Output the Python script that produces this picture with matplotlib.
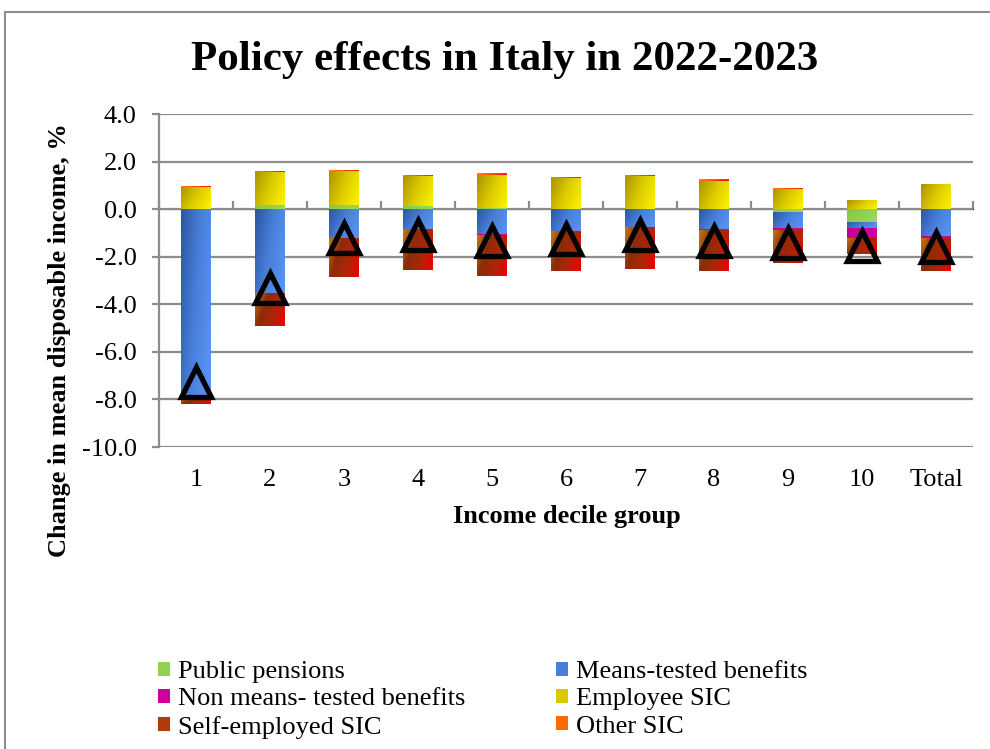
import numpy as np
import matplotlib
matplotlib.use('Agg')
import matplotlib.pyplot as plt
from matplotlib.colors import LinearSegmentedColormap
from matplotlib.patches import Patch, Rectangle

plt.rcParams['font.family'] = ['Liberation Serif', 'DejaVu Serif']

categories = ['1', '2', '3', '4', '5', '6', '7', '8', '9', '10', 'Total']
public_pensions = [0.0, 0.18, 0.18, 0.14, 0.05, 0.0, 0.0, 0.0, -0.14, -0.56, -0.05]
means_tested = [-7.94, -3.56, -1.25, -0.84, -1.08, -0.94, -0.76, -0.84, -0.66, -0.28, -1.10]
non_means_tested = [0.0, 0.0, 0.0, 0.0, -0.02, -0.03, -0.03, -0.03, -0.11, -0.38, -0.10]
employee_sic = [0.93, 1.39, 1.44, 1.27, 1.38, 1.33, 1.41, 1.18, 0.85, 0.35, 1.02]
self_employed_sic = [-0.25, -1.37, -1.62, -1.71, -1.70, -1.65, -1.73, -1.71, -1.36, -0.66, -1.37]
other_sic = [0.04, 0.04, 0.03, 0.03, 0.05, 0.03, 0.03, 0.05, 0.04, 0.0, 0.0]
net_effect = [-7.25, -3.3, -1.2, -1.1, -1.35, -1.27, -1.1, -1.35, -1.42, -1.55, -1.6]

series = [
    ('Public pensions', public_pensions, ['#86c44a', '#92d050', '#9cd95a'], '#92d050'),
    ('Means-tested benefits', means_tested, ['#2c56a2', '#4a80dc', '#5c95f5'], '#4a7fd8'),
    ('Non means- tested benefits', non_means_tested, ['#c0008e', '#cc0099', '#d400a0'], '#cc0099'),
    ('Employee SIC', employee_sic, ['#a89400', '#dccc00', '#fff200'], '#d8c800'),
    ('Self-employed SIC', self_employed_sic, ['#c87a10', '#8a2c0a', '#b02408', '#f00000'], '#b33a08'),
    ('Other SIC', other_sic, ['#ff9a00', '#ff5000', '#ff0000'], '#ff6a00'),
]

grey = '#8c8c8c'
width = 0.405
x = np.arange(len(categories))

fig = plt.figure(figsize=(9.9, 7.49), dpi=100)
ax = fig.add_axes([159 / 990, 1 - 447 / 749, 814 / 990, 333 / 749])

# stacked bars, positives up from zero and negatives down, each segment with a diagonal gradient
pos_base = np.zeros(len(categories))
neg_base = np.zeros(len(categories))
gx, gy = np.meshgrid(np.linspace(0, 1, 40), np.linspace(0, 1, 40))
grad = (gx * 0.7 + gy * 0.3)
for name, vals, cols, _ in series:
    cmap = LinearSegmentedColormap.from_list(name, cols)
    for i, v in enumerate(vals):
        if v == 0:
            continue
        if v > 0:
            y0, y1 = pos_base[i], pos_base[i] + v
            pos_base[i] = y1
        else:
            y1, y0 = neg_base[i], neg_base[i] + v
            neg_base[i] = y0
        ax.imshow(grad, cmap=cmap, extent=[x[i] - width / 2, x[i] + width / 2, y0, y1],
                  origin='upper', aspect='auto', interpolation='bilinear', zorder=2)

ax.set_xlim(-0.5, len(categories) - 0.5)
ax.set_ylim(-10, 4)

ax.plot(x, net_effect, linestyle='none', marker='^', markersize=21, markerfacecolor='none',
        markeredgecolor='black', markeredgewidth=3.8, zorder=4)

# axes styling
ax.set_yticks(np.arange(-10, 4.1, 2))
ax.set_yticklabels([f'{t:.1f}' for t in np.arange(-10, 4.1, 2)])
ax.yaxis.grid(True, color=grey, linewidth=1.6)
ax.set_axisbelow(True)
for s in ['top', 'right', 'bottom']:
    ax.spines[s].set_visible(False)
ax.spines['left'].set_color(grey)
ax.spines['left'].set_linewidth(1.6)
ax.tick_params(axis='y', direction='out', length=5, width=1.6, color=grey, pad=11, labelsize=19)
ax.set_xticks(x)
ax.set_xticklabels(categories)
ax.tick_params(axis='x', length=0, pad=16, labelsize=19)

# category axis crossing at zero with ticks between categories
zero_frac = (0 - (-10)) / 14
sec = ax.secondary_xaxis(zero_frac)
sec.set_xticks(np.arange(-0.5, len(categories), 1.0))
sec.set_xticklabels([])
sec.tick_params(direction='out', length=6, width=1.6, color=grey)
sec.spines['bottom'].set_color(grey)
sec.spines['bottom'].set_linewidth(1.6)

fig.text(505 / 990, 1 - 60 / 749, 'Policy effects in Italy in 2022-2023', fontsize=31,
         fontweight='bold', ha='center', va='center')
fig.text(60 / 990, 1 - 340 / 749, 'Change in mean disposable income, %', fontsize=19,
         fontweight='bold', rotation=90, ha='center', va='center')
fig.text(567 / 990, 1 - 517 / 749, 'Income decile group', fontsize=19, fontweight='bold',
         ha='center', va='center')

# legend filled row by row like the original
handles = [Patch(facecolor=s[3], edgecolor='none', label=s[0]) for s in series]
order = [0, 2, 4, 1, 3, 5]
fig.legend([handles[k] for k in order], [series[k][0] for k in order], ncol=2,
           loc='upper left', bbox_to_anchor=(158 / 990, 1 - 661 / 749), frameon=False,
           fontsize=19, handlelength=0.45, handleheight=0.45, handletextpad=0.3,
           columnspacing=3.45, labelspacing=0.2, borderpad=0, borderaxespad=0)

# outer chart border
fig.patches.append(Rectangle((5 / 990, -0.1), 1.2, 1 - 12 / 749 + 0.1, transform=fig.transFigure,
                             fill=False, edgecolor=grey, linewidth=1.5))

fig.savefig('out.png', dpi=100)
